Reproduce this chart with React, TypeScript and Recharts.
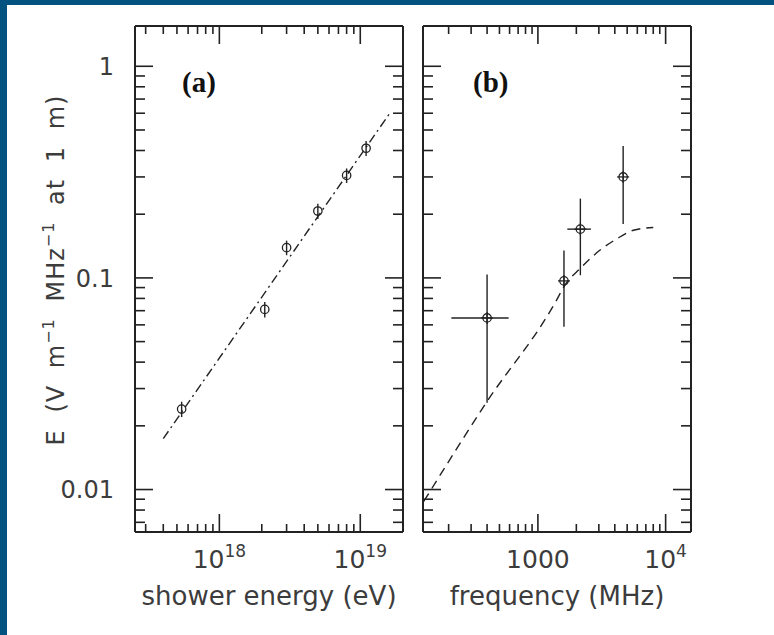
import React from 'react';
import { ComposedChart, Scatter, Line, XAxis, YAxis, ErrorBar } from 'recharts';

// Panel (a): field strength versus shower energy
const showerEnergy = [5.4e17, 2.1e18, 3.0e18, 5.0e18, 8.0e18, 1.1e19];
const showerField = [0.024, 0.071, 0.139, 0.207, 0.305, 0.41];
const showerFieldErr = [0.002, 0.006, 0.011, 0.017, 0.024, 0.033];

// Power-law fit through panel (a)
const fitEnergy = [4.0e17, 1.6e19];
const fitField = [0.0174, 0.593];

// Panel (b): field strength versus frequency
const frequency = [400, 1600, 2150, 4650];
const freqField = [0.0647, 0.0968, 0.17, 0.3];
const freqFieldErr = [0.039, 0.038, 0.067, 0.12];
const frequencyErr = [190, 0, 450, 0];

// Model curve in panel (b)
const modelFreq = [128, 390, 1400, 1600, 2150, 3050, 4150, 5600, 8000];
const modelField = [0.0088, 0.0255, 0.0785, 0.091, 0.111, 0.135, 0.153, 0.168, 0.173];

// Axis ticks (majors are the decades)
const fieldTicks = [
  0.007, 0.008, 0.009, 0.01, 0.02, 0.03, 0.04, 0.05, 0.06, 0.07, 0.08, 0.09,
  0.1, 0.2, 0.3, 0.4, 0.5, 0.6, 0.7, 0.8, 0.9, 1,
];
const energyTicks = [
  3e17, 4e17, 5e17, 6e17, 7e17, 8e17, 9e17, 1e18,
  2e18, 3e18, 4e18, 5e18, 6e18, 7e18, 8e18, 9e18, 1e19,
];
const freqTicks = [
  200, 300, 400, 500, 600, 700, 800, 900, 1000,
  2000, 3000, 4000, 5000, 6000, 7000, 8000, 9000, 10000,
];

const fieldLabels = new Map<number, [string, string?]>([
  [1, ['1']],
  [0.1, ['0.1']],
  [0.01, ['0.01']],
]);
const energyLabels = new Map<number, [string, string?]>([
  [1e18, ['10', '18']],
  [1e19, ['10', '19']],
]);
const freqLabels = new Map<number, [string, string?]>([
  [1000, ['1000']],
  [10000, ['10', '4']],
]);

const fieldDomain: [number, number] = [0.0063, 1.55];
const energyDomain: [number, number] = [2.52e17, 2.01e19];
const freqDomain: [number, number] = [126, 15800];

const energyData = showerEnergy.map((x, i) => ({ x, y: showerField[i], ey: showerFieldErr[i] }));
const fitData = fitEnergy.map((x, i) => ({ x, y: fitField[i] }));
const freqData = frequency.map((x, i) => ({ x, y: freqField[i], ey: freqFieldErr[i], ex: frequencyErr[i] }));
const modelData = modelFreq.map((x, i) => ({ x, y: modelField[i] }));

const INK = '#222';
const TEXT = '#3c3c3c';
const SANS = '"DejaVu Sans", sans-serif';

// Frame geometry shared by both panels (chart-local pixels)
const CHART_H = 635;
const TOP_H = 26;
const BOTTOM_H = 103;
const FRAME_TOP = TOP_H;
const FRAME_BOTTOM = CHART_H - BOTTOM_H;

const A_W = 420;
const A_LEFT_W = 135;
const A_RIGHT_W = 17;
const B_W = 364;
const B_LEFT_W = 13;
const B_RIGHT_W = 83;

type Side = 'left' | 'right' | 'top' | 'bottom';

// Ticks point into the plot box from the frame line at `edge`; decades get longer ticks.
const makeTick = (side: Side, edge: number, labels?: Map<number, [string, string?]>) => (props: any) => {
  const { payload } = props;
  const v = payload.value as number;
  const along = payload.coordinate as number;
  const lg = Math.log10(v);
  const major = Math.abs(lg - Math.round(lg)) < 1e-6;
  const vertical = side === 'left' || side === 'right';
  const len = major ? 18 : vertical ? 10 : 8;
  let x1: number, y1: number, x2: number, y2: number;
  if (vertical) {
    y1 = y2 = along;
    x1 = edge;
    x2 = side === 'left' ? edge + len : edge - len;
  } else {
    x1 = x2 = along;
    y1 = edge;
    y2 = side === 'top' ? edge + len : edge - len;
  }
  const lab = labels ? labels.get(v) : undefined;
  let text: React.ReactNode = null;
  if (lab) {
    if (side === 'left') {
      text = (
        <text x={edge - 21} y={along} dy="0.36em" textAnchor="end" fontFamily={SANS} fontSize={24} fill={TEXT}>
          {lab[0]}
        </text>
      );
    } else if (side === 'bottom') {
      text = (
        <text x={along} y={edge + 36} textAnchor="middle" fontFamily={SANS} fontSize={25} fill={TEXT}>
          <tspan>{lab[0]}</tspan>
          {lab[1] ? (
            <tspan dy={-11} fontSize={17}>
              {lab[1]}
            </tspan>
          ) : null}
        </text>
      );
    }
  }
  return (
    <g>
      <line x1={x1} y1={y1} x2={x2} y2={y2} stroke={INK} strokeWidth={1.6} />
      {text}
    </g>
  );
};

const axisLine = { stroke: INK, strokeWidth: 2 };

const circleShape = (p: any) => (
  <circle cx={p.cx} cy={p.cy} r={4.2} fill="none" stroke={INK} strokeWidth={1.3} />
);

const crossCircleShape = (p: any) => (
  <g>
    <circle cx={p.cx} cy={p.cy} r={4.2} fill="none" stroke={INK} strokeWidth={1.3} />
    <line x1={p.cx - 6} y1={p.cy} x2={p.cx + 6} y2={p.cy} stroke={INK} strokeWidth={1.3} />
    <line x1={p.cx} y1={p.cy - 6} x2={p.cx} y2={p.cy + 6} stroke={INK} strokeWidth={1.3} />
  </g>
);

function FrameAxes(xDomain: [number, number], xTicks: number[], xLabels: Map<number, [string, string?]>, w: number, leftW: number, rightW: number, yLabels?: Map<number, [string, string?]>) {
  const common = {
    type: 'number' as const,
    scale: 'log' as const,
    allowDataOverflow: true,
    interval: 0 as const,
    tickSize: 6,
    tickMargin: 2,
    tickLine: false,
    axisLine,
  };
  return [
    <XAxis
      key="xb"
      xAxisId="b"
      orientation="bottom"
      dataKey="x"
      domain={xDomain}
      ticks={xTicks}
      height={BOTTOM_H}
      tick={makeTick('bottom', FRAME_BOTTOM, xLabels)}
      {...common}
    />,
    <XAxis
      key="xt"
      xAxisId="t"
      orientation="top"
      dataKey="x"
      domain={xDomain}
      ticks={xTicks}
      height={TOP_H}
      tick={makeTick('top', FRAME_TOP)}
      {...common}
    />,
    <YAxis
      key="yl"
      yAxisId="l"
      orientation="left"
      dataKey="y"
      domain={fieldDomain}
      ticks={fieldTicks}
      width={leftW}
      tick={makeTick('left', leftW, yLabels)}
      {...common}
    />,
    <YAxis
      key="yr"
      yAxisId="r"
      orientation="right"
      dataKey="y"
      domain={fieldDomain}
      ticks={fieldTicks}
      width={rightW}
      tick={makeTick('right', w - rightW)}
      {...common}
    />,
  ];
}

function PanelA() {
  return (
    <ComposedChart width={A_W} height={CHART_H} margin={{ top: 0, right: 0, bottom: 0, left: 0 }}>
      {FrameAxes(energyDomain, energyTicks, energyLabels, A_W, A_LEFT_W, A_RIGHT_W, fieldLabels)}
      <Line
        xAxisId="b"
        yAxisId="l"
        data={fitData}
        dataKey="y"
        type="linear"
        stroke={INK}
        strokeWidth={1.4}
        strokeDasharray="9 4 2 4"
        dot={false}
        activeDot={false}
        isAnimationActive={false}
      />
      <Scatter xAxisId="b" yAxisId="l" data={energyData} dataKey="y" shape={circleShape} isAnimationActive={false}>
        <ErrorBar dataKey="ey" direction="y" width={0} stroke={INK} strokeWidth={1.4} />
      </Scatter>
    </ComposedChart>
  );
}

function PanelB() {
  return (
    <ComposedChart width={B_W} height={CHART_H} margin={{ top: 0, right: 0, bottom: 0, left: 0 }}>
      {FrameAxes(freqDomain, freqTicks, freqLabels, B_W, B_LEFT_W, B_RIGHT_W)}
      <Line
        xAxisId="b"
        yAxisId="l"
        data={modelData}
        dataKey="y"
        type="monotone"
        stroke={INK}
        strokeWidth={1.4}
        strokeDasharray="9 6"
        dot={false}
        activeDot={false}
        isAnimationActive={false}
      />
      <Scatter xAxisId="b" yAxisId="l" data={freqData} dataKey="y" shape={crossCircleShape} isAnimationActive={false}>
        <ErrorBar dataKey="ey" direction="y" width={0} stroke={INK} strokeWidth={1.4} />
        <ErrorBar dataKey="ex" direction="x" width={0} stroke={INK} strokeWidth={1.4} />
      </Scatter>
    </ComposedChart>
  );
}

export default function App() {
  return (
    <div
      style={{
        position: 'absolute',
        left: 0,
        top: 0,
        width: 774,
        height: 635,
        background: '#03527f',
        overflow: 'hidden',
      }}
    >
      <div style={{ position: 'absolute', left: 7, top: 5, width: 767, height: 630, background: '#fff' }} />
      <div style={{ position: 'absolute', left: 0, top: 0 }}>
        <PanelA />
      </div>
      <div style={{ position: 'absolute', left: 410, top: 0 }}>
        <PanelB />
      </div>
      <svg width={774} height={635} style={{ position: 'absolute', left: 0, top: 0, pointerEvents: 'none' }}>
        <text
          transform="translate(64,270) rotate(-90)"
          textAnchor="middle"
          fontFamily={SANS}
          fontSize={24}
          fill={TEXT}
          letterSpacing={1}
          wordSpacing={8}
        >
          <tspan>E (V m</tspan>
          <tspan dy={-10} fontSize={16}>−1</tspan>
          <tspan dy={10}> MHz</tspan>
          <tspan dy={-10} fontSize={16}>−1</tspan>
          <tspan dy={10}> at 1 m)</tspan>
        </text>
        <text x={269} y={605} textAnchor="middle" fontFamily={SANS} fontSize={26} fill={TEXT}>
          shower energy (eV)
        </text>
        <text x={557} y={605} textAnchor="middle" fontFamily={SANS} fontSize={26} fill={TEXT}>
          frequency (MHz)
        </text>
        <text x={182} y={92} fontFamily='"Liberation Serif", serif' fontSize={29} fontWeight="bold" fill="#111">
          (a)
        </text>
        <text x={473} y={92} fontFamily='"Liberation Serif", serif' fontSize={29} fontWeight="bold" fill="#111">
          (b)
        </text>
      </svg>
    </div>
  );
}
